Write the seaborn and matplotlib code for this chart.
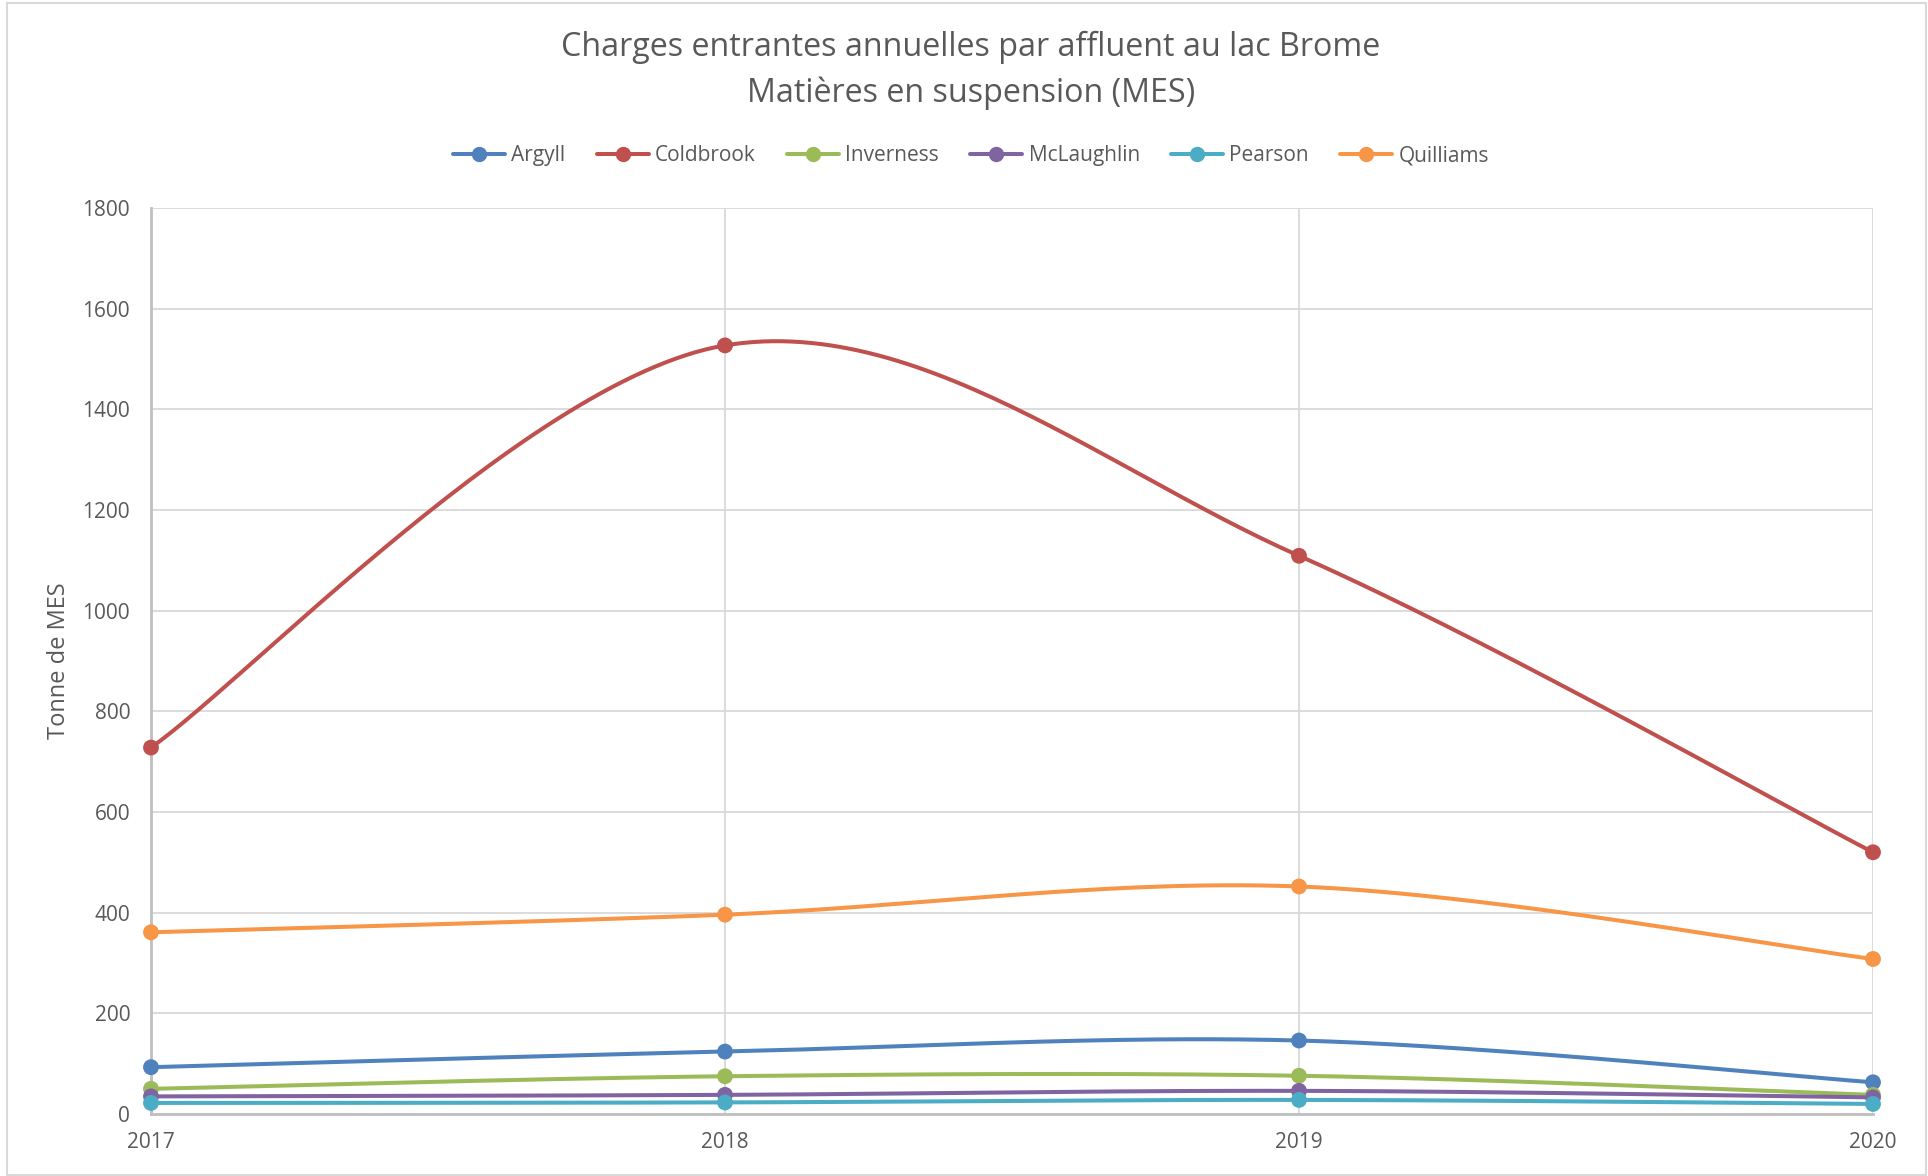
import numpy as np
import pandas as pd
import matplotlib
matplotlib.use("Agg")
import matplotlib.pyplot as plt
from matplotlib.lines import Line2D
from matplotlib.patches import Rectangle
import seaborn as sns

# Annual suspended-solids loads (tonnes) per tributary
years = [2017, 2018, 2019, 2020]
argyll = [93, 124, 146, 63]
coldbrook = [728, 1527, 1109, 520]
inverness = [50, 75, 76, 38]
mclaughlin = [35, 38, 46, 33]
pearson = [22, 23, 28, 20]
quilliams = [361, 396, 452, 308]

series_names = ["Argyll", "Coldbrook", "Inverness", "McLaughlin", "Pearson", "Quilliams"]
series_values = [argyll, coldbrook, inverness, mclaughlin, pearson, quilliams]
colors = ["#4F81BD", "#C0504D", "#9BBB59", "#8064A2", "#4BACC6", "#F79646"]
palette = dict(zip(series_names, colors))

title_line1 = "Charges entrantes annuelles par affluent au lac Brome"
title_line2 = "Matières en suspension (MES)"
y_label = "Tonne de MES"

TEXT = "#595959"
GRID = "#d9d9d9"


def smooth_curve(xs, ys, steps=60):
    """Bezier spline through the points (Catmull-Rom style control points)."""
    pts = np.column_stack([np.asarray(xs, float), np.asarray(ys, float)])
    n = len(pts)
    out = []
    for i in range(n - 1):
        p0 = pts[max(i - 1, 0)]
        p1 = pts[i]
        p2 = pts[i + 1]
        p3 = pts[min(i + 2, n - 1)]
        c1 = p1 + (p2 - p0) / 6.0
        c2 = p2 - (p3 - p1) / 6.0
        t = np.linspace(0, 1, steps, endpoint=(i == n - 2))[:, None]
        seg = ((1 - t) ** 3) * p1 + 3 * ((1 - t) ** 2) * t * c1 + 3 * (1 - t) * t ** 2 * c2 + t ** 3 * p2
        out.append(seg)
    return np.vstack(out)


points = pd.DataFrame(
    [(name, yr, v) for name, vals in zip(series_names, series_values) for yr, v in zip(years, vals)],
    columns=["series", "year", "value"],
)
curve_rows = []
for name, vals in zip(series_names, series_values):
    c = smooth_curve(years, vals)
    for k, (x, y) in enumerate(c):
        curve_rows.append((name, k, x, y))
curves = pd.DataFrame(curve_rows, columns=["series", "order", "year", "value"])

sns.set_theme(style="white")
plt.rcParams["font.family"] = ["Open Sans", "DejaVu Sans"]

fig = plt.figure(figsize=(19.28, 11.76), dpi=100)
fig.patch.set_facecolor("white")
fig.patches.append(Rectangle((7 / 1928, 1 / 1176), 1919 / 1928, 1172 / 1176, transform=fig.transFigure,
                             fill=False, edgecolor=GRID, linewidth=1.5, zorder=0))

ax = fig.add_axes([151 / 1928, 1 - 1114 / 1176, (1873 - 151) / 1928, (1114 - 208) / 1176])

for name in series_names:
    sub = curves[curves["series"] == name]
    sns.lineplot(data=sub, x="year", y="value", color=palette[name], sort=False,
                 estimator=None, linewidth=2.9, ax=ax, legend=False, clip_on=False, zorder=3)
    subp = points[points["series"] == name]
    sns.scatterplot(data=subp, x="year", y="value", color=palette[name], s=130,
                    edgecolor="none", ax=ax, legend=False, clip_on=False, zorder=4)

ax.set_xlim(years[0], years[-1])
ax.set_ylim(0, 1800)
ax.set_xticks(years)
ax.set_xticklabels([str(y) for y in years])
ax.set_yticks(np.arange(0, 1801, 200))
ax.grid(True, color=GRID, linewidth=1.3)
ax.set_axisbelow(True)
for side in ["top", "right"]:
    ax.spines[side].set_visible(False)
for side in ["left", "bottom"]:
    ax.spines[side].set_color("#bfbfbf")
    ax.spines[side].set_linewidth(2)
ax.tick_params(axis="both", length=0, labelsize=15, labelcolor=TEXT)
ax.tick_params(axis="x", pad=13)
ax.tick_params(axis="y", pad=15)
ax.set_xlabel("")
ax.set_ylabel(y_label, fontsize=17, color=TEXT, labelpad=0)
ax.yaxis.set_label_coords((71 - 151) / (1873 - 151), 0.5, transform=ax.transAxes)

fig.text(0.5036, 1 - 47 / 1176, title_line1, ha="center", va="center", fontsize=23.2, color=TEXT)
fig.text(0.5036, 1 - 93 / 1176, title_line2, ha="center", va="center", fontsize=23.2, color=TEXT)

handles = [Line2D([0], [0], color=c, linewidth=2.9, marker="o", markersize=10) for c in colors]
fig.legend(handles, series_names, loc="center", bbox_to_anchor=(971 / 1928, 1 - 156 / 1176),
           ncol=6, frameon=False, fontsize=15, labelcolor=TEXT, handlelength=2.5,
           handletextpad=0.3, columnspacing=1.5)

fig.savefig("out.png", dpi=100, facecolor="white")
